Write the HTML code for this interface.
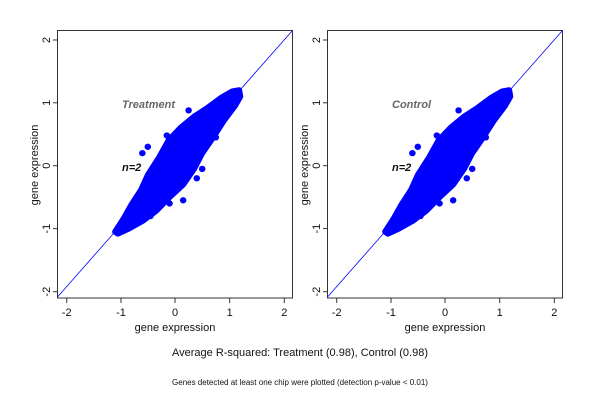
<!DOCTYPE html>
<html><head><style>body{margin:0;background:#fff}svg{display:block}text{font-family:"Liberation Sans",sans-serif}</style></head><body>
<svg width="600" height="400" viewBox="0 0 600 400">
<defs>
<g id="cloud">
<path d="M-1.1,-1.05 L-0.95,-0.85 L-0.8,-0.62 L-0.62,-0.38 L-0.5,-0.15 L-0.3,0.12 L-0.12,0.4 L0.1,0.6 L0.35,0.78 L0.6,0.92 L0.85,1.08 L1.05,1.18 L1.18,1.2 L1.2,1.1 L1.1,0.95 L0.9,0.72 L0.7,0.45 L0.5,0.2 L0.35,-0.05 L0.15,-0.3 L-0.1,-0.5 L-0.35,-0.72 L-0.6,-0.88 L-0.85,-1.0 L-1.05,-1.08 Z" fill="#0000ff" stroke="#0000ff" stroke-width="6" stroke-linejoin="round" vector-effect="non-scaling-stroke"/>
<g fill="#0000ff">
<ellipse cx="-0.5" cy="0.3" rx="0.06" ry="0.05"/><ellipse cx="-0.6" cy="0.2" rx="0.06" ry="0.05"/>
<ellipse cx="-0.15" cy="0.48" rx="0.06" ry="0.05"/><ellipse cx="0.25" cy="0.88" rx="0.06" ry="0.05"/>
<ellipse cx="0.5" cy="-0.05" rx="0.06" ry="0.05"/><ellipse cx="0.4" cy="-0.2" rx="0.06" ry="0.05"/>
<ellipse cx="-0.1" cy="-0.6" rx="0.06" ry="0.05"/><ellipse cx="0.15" cy="-0.55" rx="0.06" ry="0.05"/>
<ellipse cx="-0.45" cy="-0.8" rx="0.06" ry="0.05"/><ellipse cx="0.75" cy="0.45" rx="0.06" ry="0.05"/>
<ellipse cx="-0.3" cy="0.05" rx="0.06" ry="0.05"/><ellipse cx="0.45" cy="0.35" rx="0.06" ry="0.05"/>
</g>
</g>
<g id="panel">
<rect x="57.5" y="30.5" width="235" height="267.5" fill="none" stroke="#333" stroke-width="1"/>
<line x1="57.5" y1="297" x2="292.5" y2="30.5" stroke="#0000ff" stroke-width="0.8"/>
<g transform="matrix(54.4,0,0,-62.9,175,165.7)"><use href="#cloud"/></g>
<g stroke="#333">
<line x1="66.7" y1="298" x2="66.7" y2="303"/><line x1="121" y1="298" x2="121" y2="303"/><line x1="175" y1="298" x2="175" y2="303"/><line x1="229.7" y1="298" x2="229.7" y2="303"/><line x1="284.3" y1="298" x2="284.3" y2="303"/>
<line x1="57.5" y1="40" x2="53" y2="40"/><line x1="57.5" y1="102.8" x2="53" y2="102.8"/><line x1="57.5" y1="165.7" x2="53" y2="165.7"/><line x1="57.5" y1="228.6" x2="53" y2="228.6"/><line x1="57.5" y1="291.7" x2="53" y2="291.7"/>
</g>
<g font-size="11" text-anchor="middle" fill="#111">
<text x="66.7" y="316">-2</text><text x="121" y="316">-1</text><text x="175" y="316">0</text><text x="229.7" y="316">1</text><text x="284.3" y="316">2</text>
<text x="175" y="331">gene expression</text>
<text transform="translate(50,40) rotate(-90)">2</text>
<text transform="translate(50,102.8) rotate(-90)">1</text>
<text transform="translate(50,165.7) rotate(-90)">0</text>
<text transform="translate(50,228.6) rotate(-90)">-1</text>
<text transform="translate(50,291.7) rotate(-90)">-2</text>
<text transform="translate(38,165) rotate(-90)">gene expression</text>
</g>
<text x="122" y="171" font-size="11" font-weight="bold" font-style="italic" fill="#111">n=2</text>
</g>
</defs>
<use href="#panel"/>
<use href="#panel" x="270"/>
<text x="122" y="108" font-size="11" font-weight="bold" font-style="italic" fill="#666">Treatment</text>
<text x="392" y="108" font-size="11" font-weight="bold" font-style="italic" fill="#666">Control</text>
<text x="300" y="356" font-size="11" text-anchor="middle" fill="#111">Average R-squared: Treatment (0.98), Control (0.98)</text>
<text x="300" y="385" font-size="8" text-anchor="middle" fill="#111">Genes detected at least one chip were plotted (detection p-value &lt; 0.01)</text>
</svg>
</body></html>
